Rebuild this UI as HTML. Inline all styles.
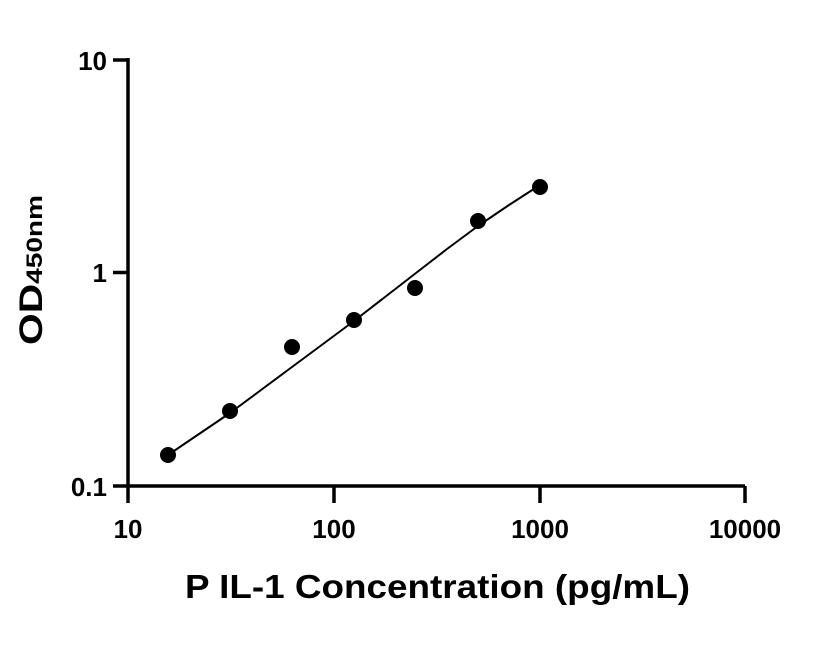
<!DOCTYPE html>
<html><head><style>body{margin:0;background:#fff}</style></head><body>
<svg width="816" height="640" xmlns="http://www.w3.org/2000/svg" font-family="Liberation Sans, DejaVu Sans, sans-serif" font-weight="bold">
<g stroke="#000" stroke-width="3.5" fill="none">
<path d="M128,58 V503 M113,60 H128 M113,272.5 H128 M126,486 H745 M113,486 H128 M128,486 V503 M334,486 V503 M540,486 V503 M745,486 V503"/>
</g>
<path d="M168,455 L199,434 L230,413 L261,390 L292,367 L323,344 L354,321 L385,297 L416,273 L447,249 L478,226 L509,205 L540,185" stroke="#000" stroke-width="2" fill="none" stroke-linejoin="round"/>
<g fill="#000">
<circle cx="168" cy="455" r="8"/><circle cx="230" cy="411" r="8"/><circle cx="292" cy="347" r="8"/><circle cx="354" cy="320" r="8"/><circle cx="415" cy="288" r="8"/><circle cx="478" cy="221" r="8"/><circle cx="540" cy="187" r="8"/>
</g>
<g font-size="26" text-anchor="end">
<text x="107" y="70">10</text><text x="107" y="282">1</text><text x="107" y="496">0.1</text>
</g>
<g font-size="26" text-anchor="middle">
<text x="128" y="538">10</text><text x="334" y="538">100</text><text x="540" y="538">1000</text><text x="745" y="538">10000</text>
</g>
<text x="185" y="598" font-size="33" textLength="505" lengthAdjust="spacingAndGlyphs">P IL-1 Concentration (pg/mL)</text>
<text transform="translate(42,345) rotate(-90)" font-size="32" textLength="150" lengthAdjust="spacingAndGlyphs">OD<tspan font-size="22">450nm</tspan></text>
</svg>
</body></html>
